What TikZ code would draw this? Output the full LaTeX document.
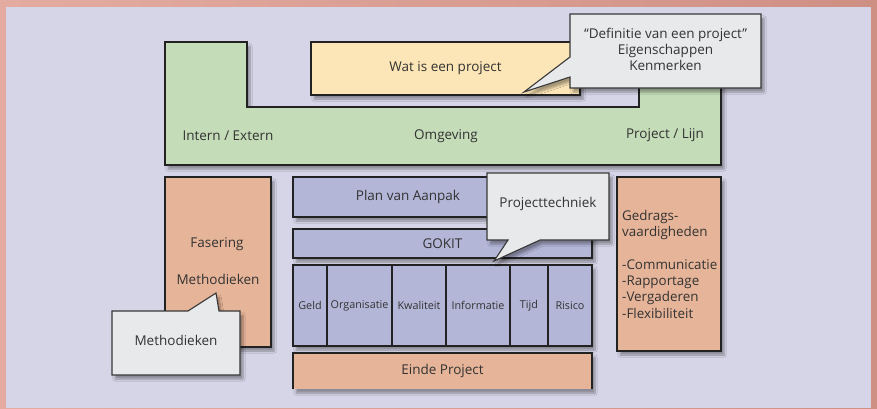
\documentclass[tikz,border=0pt]{standalone}
\usepackage{fontspec}
\setmainfont{Open Sans}
\usetikzlibrary{shadows.blur}
\definecolor{pinkL}{HTML}{E4ACA1}
\definecolor{pinkR}{HTML}{CF9084}
\definecolor{bgclr}{HTML}{D6D5E8}
\definecolor{greenclr}{HTML}{C4DCB8}
\definecolor{yellowclr}{HTML}{FCE5B6}
\definecolor{blueclr}{HTML}{B4B6D8}
\definecolor{orangeclr}{HTML}{E6B498}
\definecolor{calloutclr}{HTML}{E8E9EB}
\definecolor{lineclr}{HTML}{222222}
\definecolor{textclr}{HTML}{333333}
\begin{document}
\begin{tikzpicture}[x=1pt,y=-1pt,
  softshadow/.style={blur shadow={shadow xshift=3pt, shadow yshift=-4pt, shadow opacity=35, shadow blur steps=6}},
  outline/.style={draw=lineclr, line width=1.4pt, line join=miter},
  mainfont/.style={font=\fontsize{13.5}{16}\selectfont},
  panel/.style={outline, rectangle, inner sep=0pt, outer sep=0pt, softshadow, text=textclr, mainfont},
  lbl/.style={text=textclr, mainfont, inner sep=0pt},
  cell/.style={outline, rectangle, inner sep=0pt, outer sep=0pt, fill=blueclr, text=textclr, font=\fontsize{10.8}{13}\selectfont, minimum height=81pt},
  bubble/.style={draw=lineclr!90, line width=1.1pt, fill=calloutclr, line join=miter, softshadow},
  bubbletxt/.style={text=textclr, font=\fontsize{13.5}{16}\selectfont, inner sep=0pt, align=center},
]
\useasboundingbox (0,0) rectangle (877,408);

% frame and backdrop
\fill[left color=pinkL, right color=pinkR] (0,0) rectangle (877,408);
\fill[bgclr] (6,7) rectangle (871,408);

% environment band (L-shaped)
\path[outline, fill=greenclr, softshadow] (165,42) -- (247,42) -- (247,107) -- (639,107)
  -- (639,42) -- (721,42) -- (721,165) -- (165,165) -- cycle;
\node[lbl] (intern) at (228,136) {Intern / Extern};
\node[lbl] (omgeving) at (446,136) {Omgeving};
\node[lbl] (lijn) at (665,135) {Project / Lijn};

% what is a project
\node[panel, fill=yellowclr, minimum width=269pt, minimum height=53pt] (wat) at (445.5,68.5) {Wat is een project};

% definition callout
\path[bubble] (570,14) -- (761,14) -- (761,88) -- (570,88) -- (570,77) -- (524,92) -- (570,57) -- cycle;
\node[bubbletxt] (defn) at (665.5,49) {“Definitie van een project”\\Eigenschappen\\Kenmerken};

% phasing column
\node[panel, fill=orangeclr, minimum width=106pt, minimum height=170pt] (fasering) at (218,262) {};
\node[lbl] (fastxt) at (217,244) {Fasering};
\node[lbl] (methtxt) at (218,279) {Methodieken};

% project technique stack
\node[panel, fill=blueclr, minimum width=299pt, minimum height=40pt] (plan) at (442.5,197) {};
\node[lbl] (plantxt) at (408,197) {Plan van Aanpak};
\node[panel, fill=blueclr, minimum width=299pt, minimum height=29pt] (gokit) at (442.5,243.5) {GOKIT};

\fill[blueclr, softshadow] (293,265) rectangle (592,346);
\node[cell, minimum width=34pt] (geld) at (310,305.5) {Geld};
\node[cell, minimum width=65pt] (org) at (359.5,305.5) {Organisatie};
\node[cell, minimum width=54pt] (kwal) at (419,305.5) {Kwaliteit};
\node[cell, minimum width=64pt] (info) at (478,305.5) {Informatie};
\node[cell, minimum width=38pt] (tijd) at (529,305.5) {Tijd};
\node[cell, minimum width=44pt] (risico) at (570,305.5) {Risico};

\node[rectangle, inner sep=0pt, outer sep=0pt, fill=orangeclr, softshadow, minimum width=299pt, minimum height=36pt,
  text=textclr, mainfont] (einde) at (442.5,371) {Einde Project};
\draw[outline] (einde.south west) -- (einde.north west) -- (einde.north east) -- (einde.south east);

% behavioural skills column
\node[panel, fill=orangeclr, minimum width=104pt, minimum height=174pt] (gedrag) at (669,264) {};
\node[lbl, align=left, anchor=north west, font=\fontsize{13.4}{16.3}\selectfont] (gedragtxt) at (622,210)
  {Gedrags-\\vaardigheden\\[16.3pt]-Communicatie\\-Rapportage\\-Vergaderen\\-Flexibiliteit};

% project technique callout
\path[bubble] (487,173) -- (609,173) -- (609,240) -- (540,240) -- (494,261) -- (508,240) -- (487,240) -- cycle;
\node[bubbletxt] (techn) at (548,204) {Projecttechniek};

% methods callout
\path[bubble] (112,311) -- (188,311) -- (216,293) -- (219,311) -- (240,311) -- (240,375) -- (112,375) -- cycle;
\node[bubbletxt] (meth) at (176,340) {Methodieken};
\end{tikzpicture}
\end{document}
